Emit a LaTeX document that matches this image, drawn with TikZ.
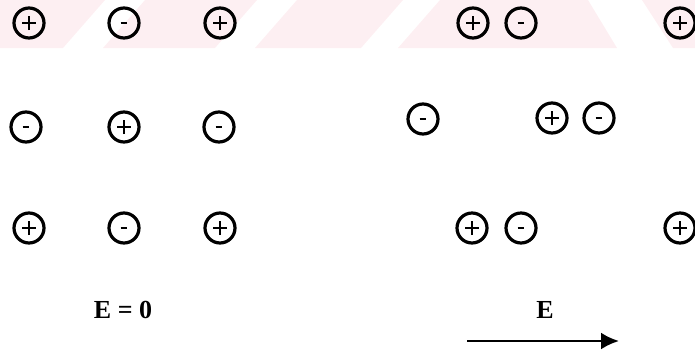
\documentclass[tikz,border=0pt]{standalone}
\usepackage{fontspec}
\setmainfont{Liberation Serif}
\usetikzlibrary{arrows.meta}
\definecolor{wmpink}{HTML}{FDEFF2}
\tikzset{
  chg/.style={circle, draw=black, line width=3.2pt, minimum size=30pt, inner sep=0pt},
  poschg/.style={chg, path picture={
      \draw[line width=1.7pt] ([xshift=-7pt]path picture bounding box.center) -- ([xshift=7pt]path picture bounding box.center);
      \draw[line width=1.7pt] ([yshift=-7pt]path picture bounding box.center) -- ([yshift=7pt]path picture bounding box.center);}},
  negchg/.style={chg, path picture={
      \draw[line width=2.6pt] ([xshift=-3.4pt]path picture bounding box.center) -- ([xshift=3.4pt]path picture bounding box.center);}},
  lbl/.style={font=\fontsize{26}{30}\selectfont\bfseries, inner sep=0pt},
  wm/.style={fill=wmpink, draw=none}
}
\begin{document}
\begin{tikzpicture}[x=1pt,y=-1pt]
\useasboundingbox (0,0) rectangle (695,354);
% watermark
\fill[wm] (0,0) -- (105,0) -- (63,48) -- (0,48) -- cycle;
\fill[wm] (145,0) -- (257,0) -- (215,48) -- (103,48) -- cycle;
\fill[wm] (297,0) -- (403,0) -- (361,48) -- (255,48) -- cycle;
\fill[wm] (440,0) -- (588,0) -- (617,48) -- (398,48) -- cycle;
\fill[wm] (642,0) -- (695,0) -- (695,48) -- (673,48) -- cycle;
% left panel, E = 0
\node[poschg] (l11) at (29,23) {};
\node[negchg] (l12) at (124,23) {};
\node[poschg] (l13) at (220,23) {};
\node[negchg] (l21) at (26,127) {};
\node[poschg] (l22) at (124,127) {};
\node[negchg] (l23) at (219,127) {};
\node[poschg] (l31) at (29,228) {};
\node[negchg] (l32) at (124,228) {};
\node[poschg] (l33) at (220,228) {};
% right panel, E applied
\node[poschg] (r11) at (473,23) {};
\node[negchg] (r12) at (521,23) {};
\node[poschg] (r13) at (680,23) {};
\node[negchg] (r21) at (423,119) {};
\node[poschg] (r22) at (552,118) {};
\node[negchg] (r23) at (599,118) {};
\node[poschg] (r31) at (472,228) {};
\node[negchg] (r32) at (521,228) {};
\node[poschg] (r33) at (680,228) {};
% labels
\node[lbl] (ezero) at (123,310) {E = 0};
\node[lbl] (efield) at (545,310) {E};
\coordinate (arrS) at (467,341);
\coordinate (arrE) at (619,341);
\draw[line width=2.6pt, -{Latex[length=18pt,width=17pt]}] (arrS) -- (arrE);
\end{tikzpicture}
\end{document}
